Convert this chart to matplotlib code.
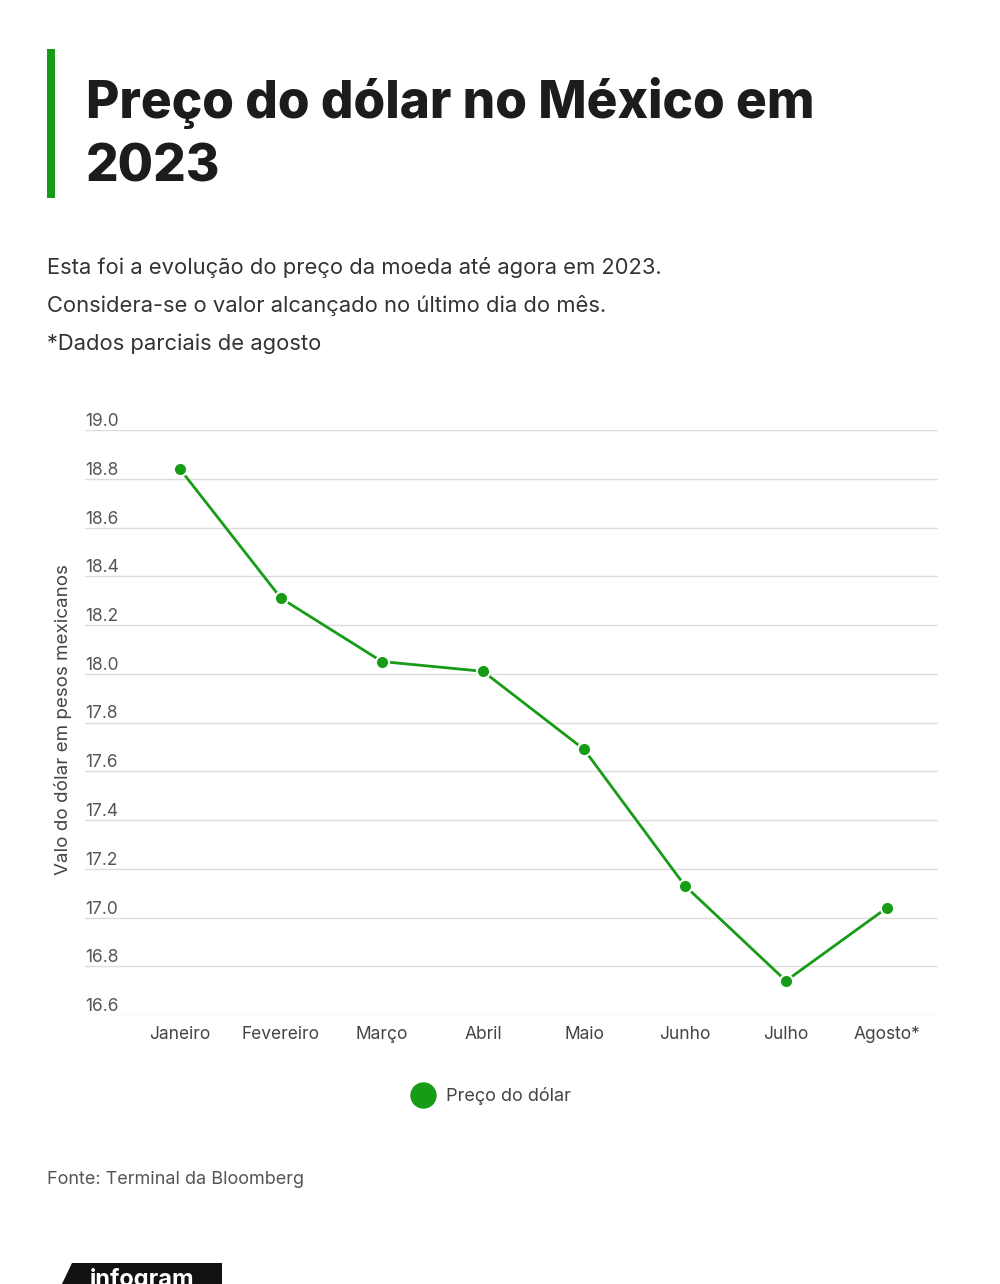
import matplotlib
matplotlib.use("Agg")
import matplotlib.pyplot as plt
from matplotlib.lines import Line2D
from matplotlib.patches import Polygon, Rectangle
import matplotlib.transforms as mtransforms

months = ["Janeiro", "Fevereiro", "Março", "Abril", "Maio", "Junho", "Julho", "Agosto*"]
prices = [18.84, 18.31, 18.05, 18.01, 17.69, 17.13, 16.74, 17.04]
yticks = [16.6, 16.8, 17.0, 17.2, 17.4, 17.6, 17.8, 18.0, 18.2, 18.4, 18.6, 18.8, 19.0]
ytick_labels = ["16.6", "16.8", "17.0", "17.2", "17.4", "17.6", "17.8", "18.0",
                "18.2", "18.4", "18.6", "18.8", "19.0"]
title_lines = ["Preço do dólar no México em", "2023"]
subtitle = ["Esta foi a evolução do preço da moeda até agora em 2023.",
            "Considera-se o valor alcançado no último dia do mês.",
            "*Dados parciais de agosto"]
ylabel = "Valo do dólar em pesos mexicanos"
legend_label = "Preço do dólar"
source = "Fonte: Terminal da Bloomberg"

GREEN = "#169c16"
W, H = 1000, 1284
plt.rcParams['font.family'] = ['Inter', 'DejaVu Sans']

fig = plt.figure(figsize=(W / 100, H / 100), dpi=100)
fig.patch.set_facecolor("white")

def fx(px):
    return px / W

def fy(py):
    return 1 - py / H

# green bar by title
fig.add_artist(Rectangle((fx(47), fy(198)), fx(8), (198 - 49) / H,
                         transform=fig.transFigure, color=GREEN, lw=0))
for i, line in enumerate(title_lines):
    fig.text(fx(86), fy(118 + i * 64), line, fontsize=37, fontweight=800,
             color="#1c1c1c", va="baseline", ha="left")

for i, line in enumerate(subtitle):
    fig.text(fx(47), fy(274 + i * 38), line, fontsize=15.8, color="#333333",
             va="baseline", ha="left")

ax = fig.add_axes([fx(85), fy(1015), fx(938 - 85), (1015 - 430) / H])
ax.set_xlim(-0.94, 7.505)
ax.set_ylim(16.6, 19.0)
for s in ax.spines.values():
    s.set_visible(False)
ax.set_yticks(yticks)
ax.yaxis.grid(True, color="#dcdcdc", lw=1)
ax.set_axisbelow(True)
ax.tick_params(axis="y", length=0, labelleft=False)
ax.tick_params(axis="x", length=0, pad=8, labelsize=12.5, labelcolor="#444444")
x = list(range(len(months)))
ax.set_xticks(x)
ax.set_xticklabels(months)

tr = mtransforms.offset_copy(ax.get_yaxis_transform(), fig=fig, x=0, y=4, units="dots")
for v, lab in zip(yticks, ytick_labels):
    ax.text(0, v, lab, transform=tr, ha="left", va="baseline", fontsize=12.5,
            color="#555555")

ax.plot(x, prices, color=GREEN, lw=2, marker="o", ms=9.5, mfc=GREEN,
        mec="white", mew=1.5, zorder=3)

fig.text(fx(63), fy(720), ylabel, rotation=90, ha="center", va="center",
         fontsize=13.5, color="#444444")

handle = Line2D([], [], marker="o", ls="none", ms=18, color=GREEN)
fig.legend([handle], [legend_label], loc="center",
           bbox_to_anchor=(fx(488), fy(1096)), frameon=False, fontsize=13,
           labelcolor="#444444", handletextpad=0.3, borderpad=0)

fig.text(fx(47), fy(1184), source, fontsize=13, color="#555555",
         ha="left", va="baseline")

# infogram logo (cut off at the bottom edge, as in the reference)
poly = Polygon([(fx(61), fy(1286)), (fx(72), fy(1263)), (fx(222), fy(1263)),
                (fx(222), fy(1286))], closed=True, transform=fig.transFigure,
               color="#111111", lw=0)
fig.add_artist(poly)
fig.text(fx(142), fy(1268), "infogram", fontsize=17, fontweight="bold",
         color="white", ha="center", va="top")

fig.savefig("out.png", dpi=100, facecolor="white")
